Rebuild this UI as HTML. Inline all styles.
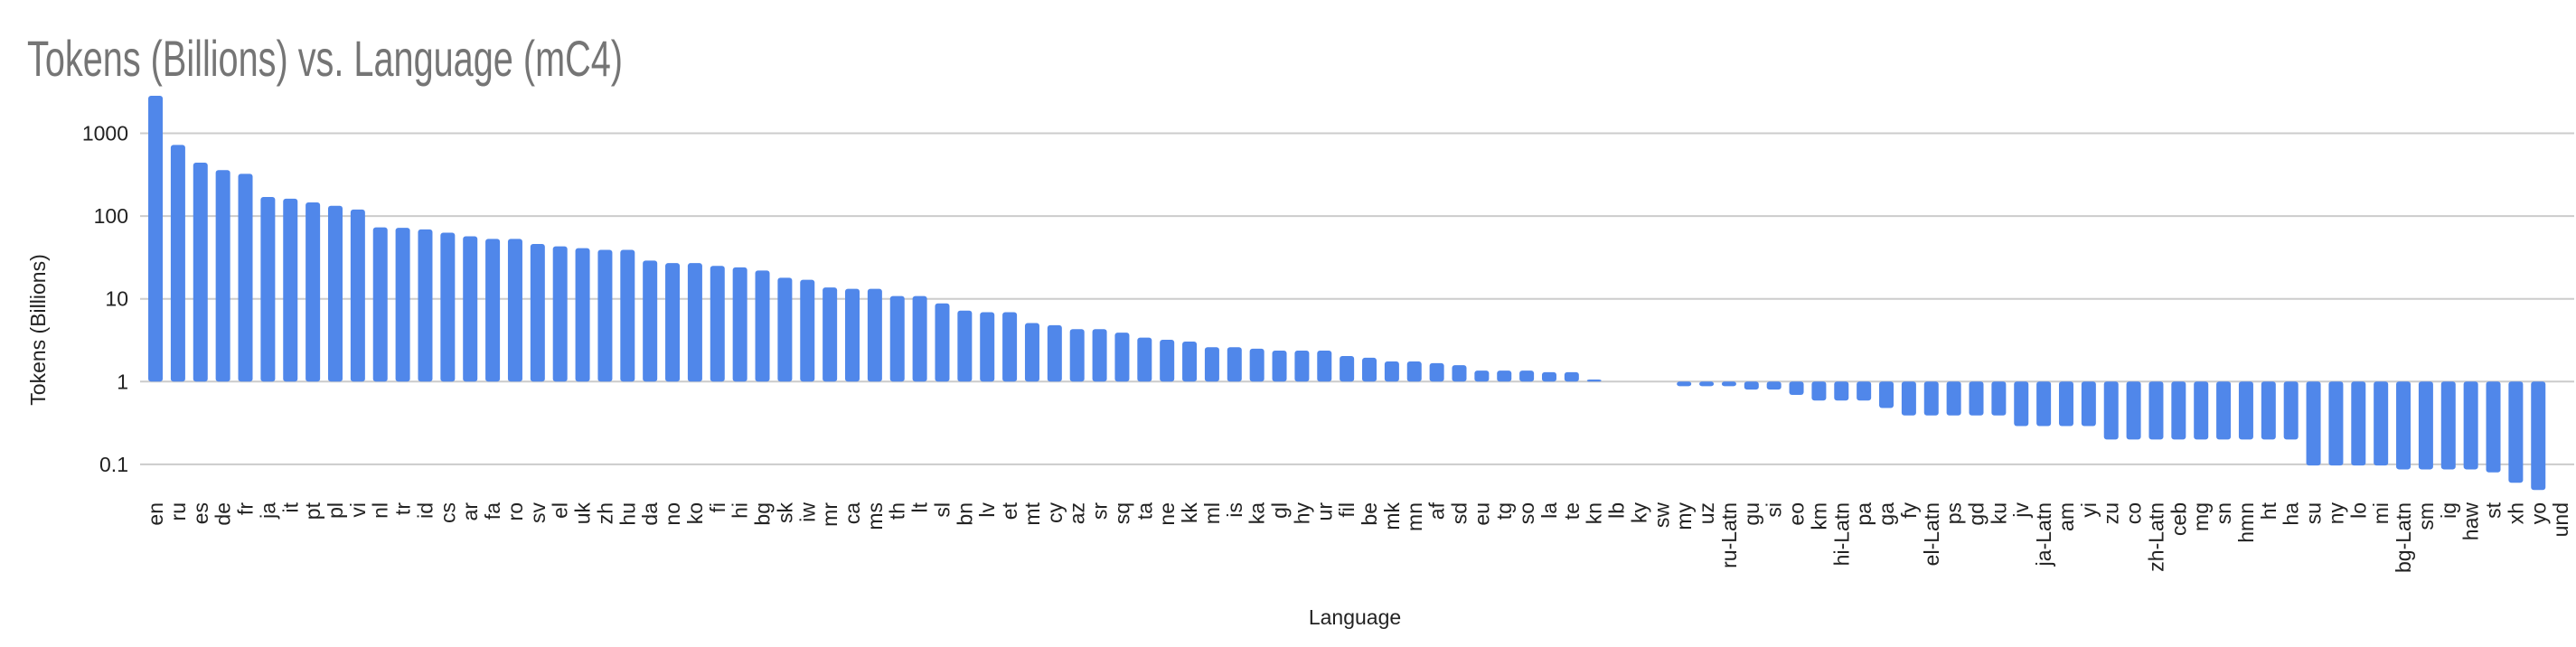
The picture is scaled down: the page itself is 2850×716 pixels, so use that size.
<!DOCTYPE html>
<html><head><meta charset="utf-8"><style>
html,body{margin:0;padding:0;background:#fff;}
svg{display:block;font-family:"Liberation Sans",Arial,sans-serif;}
</style></head><body>
<svg id="chart" width="2850" height="716" viewBox="0 0 2850 716" xmlns="http://www.w3.org/2000/svg">
<text x="30" y="84" font-size="56" fill="#757575" textLength="659" lengthAdjust="spacingAndGlyphs">Tokens (Billions) vs. Language (mC4)</text>
<text transform="translate(50,365) rotate(-90)" text-anchor="middle" font-size="23" fill="#222">Tokens (Billions)</text>
<text x="1499" y="691" text-anchor="middle" font-size="23" fill="#222">Language</text>
<g id="grid"></g><g id="bars"></g><g id="xlabels"></g>
</svg>
<script>
const categories = ["en","ru","es","de","fr","ja","it","pt","pl","vi","nl","tr","id","cs","ar","fa","ro","sv","el","uk","zh","hu","da","no","ko","fi","hi","bg","sk","iw","mr","ca","ms","th","lt","sl","bn","lv","et","mt","cy","az","sr","sq","ta","ne","kk","ml","is","ka","gl","hy","ur","fil","be","mk","mn","af","sd","eu","tg","so","la","te","kn","lb","ky","sw","my","uz","ru-Latn","gu","si","eo","km","hi-Latn","pa","ga","fy","el-Latn","ps","gd","ku","jv","ja-Latn","am","yi","zu","co","zh-Latn","ceb","mg","sn","hmn","ht","ha","su","ny","lo","mi","bg-Latn","sm","ig","haw","st","xh","yo","und"];
const tokens = [2840,724,442,359,324,170,162,146,133,120,73,72,69,63,57,53,53,46,43,41,39,39,29,27,27,25,24,22,18,17,13.7,13.2,13.2,10.8,10.8,8.8,7.2,6.9,6.9,5.1,4.8,4.3,4.3,3.9,3.4,3.2,3.05,2.6,2.6,2.5,2.37,2.37,2.37,2.04,1.94,1.75,1.75,1.67,1.58,1.36,1.36,1.36,1.3,1.3,1.06,1,1,1,0.88,0.88,0.88,0.8,0.8,0.69,0.59,0.59,0.59,0.48,0.39,0.39,0.39,0.39,0.39,0.29,0.29,0.29,0.29,0.2,0.2,0.2,0.2,0.2,0.2,0.2,0.2,0.2,0.097,0.097,0.097,0.097,0.087,0.087,0.087,0.087,0.08,0.06,0.049,null];
const yTicks = [1000,100,10,1,0.1];
const yTickLabels = ["1000","100","10","1","0.1"];

const NS="http://www.w3.org/2000/svg";
const plotLeft=159.6, step=24.87, barW=16;
function xCenter(i){return plotLeft+step*(i+0.5);}
function yScale(v){return 422.3-91.6*Math.log10(v);}
const grid=document.getElementById('grid'), bars=document.getElementById('bars'), xl=document.getElementById('xlabels');
yTicks.forEach((t,k)=>{
  const y=yScale(t);
  const ln=document.createElementNS(NS,'line');
  
  
  ln.setAttribute('x1',155);ln.setAttribute('x2',2848);ln.setAttribute('y1',y);ln.setAttribute('y2',y);
  ln.setAttribute('stroke','#cccccc');ln.setAttribute('stroke-width','2');
  grid.appendChild(ln);
  const tx=document.createElementNS(NS,'text');
  
  
  tx.setAttribute('x',142);tx.setAttribute('y',y+8);tx.setAttribute('text-anchor','end');
  tx.setAttribute('font-size','23');tx.setAttribute('fill','#222');
  tx.textContent=yTickLabels[k];
  grid.appendChild(tx);
});
const base=yScale(1);
categories.forEach((c,i)=>{
  const v=tokens[i];
  const cx=xCenter(i);
  if(v!==null && v!==1){
    const y=yScale(v);
    const r=document.createElementNS(NS,'rect');
    
    
    r.setAttribute('x',cx-barW/2);r.setAttribute('width',barW);
    r.setAttribute('y',Math.min(y,base));r.setAttribute('height',Math.max(Math.abs(base-y),0.5));
    r.setAttribute('rx','3');r.setAttribute('fill','#5087ea');
    bars.appendChild(r);
  }
  const t=document.createElementNS(NS,'text');
  
  
  t.setAttribute('transform','translate('+(cx+8)+',556) rotate(-90)');
  t.setAttribute('text-anchor','end');t.setAttribute('font-size','23');t.setAttribute('fill','#222');
  t.textContent=c;
  xl.appendChild(t);
});
</script>
</body></html>
